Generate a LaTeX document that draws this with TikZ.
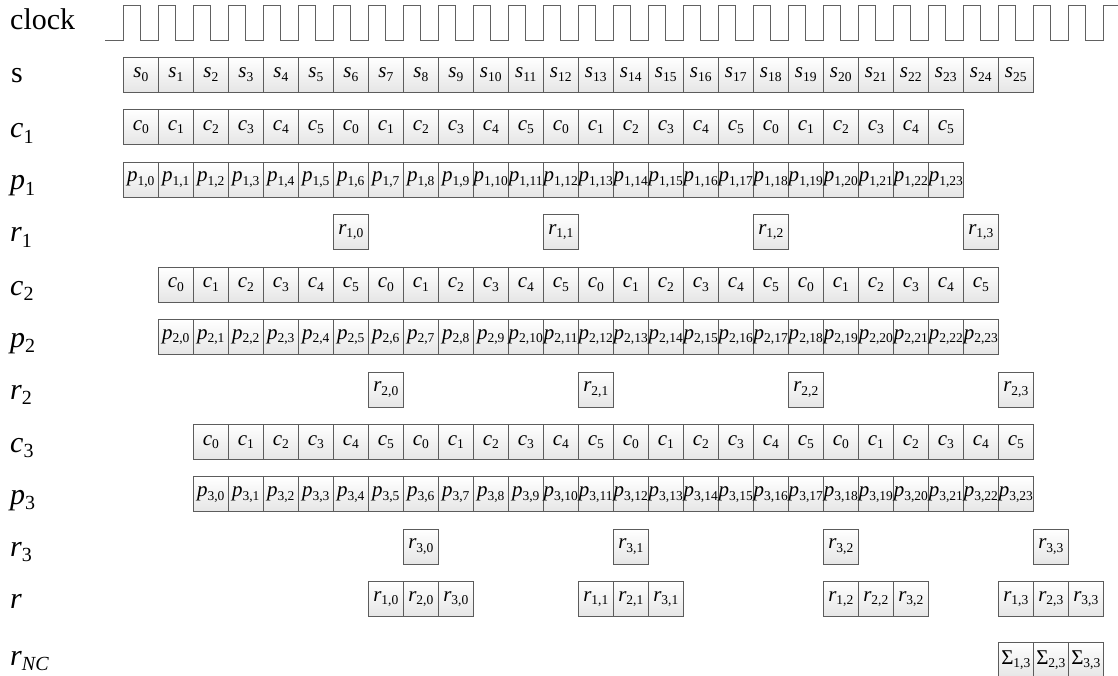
\documentclass[tikz,border=0pt]{standalone}
\usepackage{fontspec}
\setmainfont{Liberation Serif}
\newcommand\cs[2]{\textit{#1}\raisebox{-3.5pt}{\fontsize{13.5}{14}\selectfont #2}}
\newcommand\ls[2]{\textit{#1}\raisebox{-5.5pt}{\fontsize{20}{20}\selectfont #2}}
\tikzset{
  cell/.style={draw=black!64, line width=0.9pt, top color=white, bottom color=black!10,
    minimum width=35pt, minimum height=35pt, inner sep=0pt, font=\fontsize{21}{23}\selectfont},
  lbl/.style={anchor=base west, inner sep=0pt, font=\fontsize{30}{32}\selectfont},
  clk/.style={draw=black!62, line width=0.9pt}
}
\begin{document}
\begin{tikzpicture}[x=1pt,y=-1pt]
\useasboundingbox (0,0) rectangle (1118,676);
% labels
\node[lbl] (l-clock) at (10,30) {clock};
\node[lbl] (l-s) at (11,83) {s};
\node[lbl] (l-c1) at (10,138) {\ls{c}{1}};
\node[lbl] (l-p1) at (10,190) {\ls{p}{1}};
\node[lbl] (l-r1) at (10,242) {\ls{r}{1}};
\node[lbl] (l-c2) at (10,295) {\ls{c}{2}};
\node[lbl] (l-p2) at (10,347) {\ls{p}{2}};
\node[lbl] (l-r2) at (10,399) {\ls{r}{2}};
\node[lbl] (l-c3) at (10,452) {\ls{c}{3}};
\node[lbl] (l-p3) at (10,504) {\ls{p}{3}};
\node[lbl] (l-r3) at (10,556) {\ls{r}{3}};
\node[lbl] (l-r) at (10,608) {\textit{r}};
\node[lbl] (l-rnc) at (10,665) {\ls{r}{\itshape NC}};
% clock
\coordinate (clk-start) at (105,40.7);
\coordinate (clk-end) at (1118,5);
\draw[clk] (clk-start) foreach \i in {0,...,27} { -- ({123.3+35*\i},40.7) -- ++(0,-35.7) -- ++(17.5,0) -- ++(0,35.7) }
  -- (1103.3,40.7) -- (1103.3,5) -- (clk-end);
% s row
\foreach \i in {0,...,25} \node[cell] (s-\i) at ({140.8+35*\i},74.8) {\cs{s}{\i}};
% c and p rows
\foreach \i in {0,...,23} {
  \pgfmathtruncatemacro\m{mod(\i,6)}
  \node[cell] (ca-\i) at ({140.8+35*\i},127.2) {\cs{c}{\m}};
  \node[cell] (pa-\i) at ({140.8+35*\i},179.7) {\cs{p}{1,\i}};
  \node[cell] (cb-\i) at ({140.8+35*(\i+1)},284.6) {\cs{c}{\m}};
  \node[cell] (pb-\i) at ({140.8+35*(\i+1)},337.0) {\cs{p}{2,\i}};
  \node[cell] (cc-\i) at ({140.8+35*(\i+2)},441.9) {\cs{c}{\m}};
  \node[cell] (pc-\i) at ({140.8+35*(\i+2)},494.4) {\cs{p}{3,\i}};
}
% r rows
\foreach \k in {0,...,3} {
  \node[cell] (ra-\k) at ({140.8+35*(6*\k+6)},232.1) {\cs{r}{1,\k}};
  \node[cell] (rb-\k) at ({140.8+35*(6*\k+7)},389.5) {\cs{r}{2,\k}};
  \node[cell] (rc-\k) at ({140.8+35*(6*\k+8)},546.8) {\cs{r}{3,\k}};
}
% combined r row
\foreach \k/\c in {0/7,1/13,2/20,3/25} {
  \foreach \j in {1,2,3} {
    \node[cell] (r-\k-\j) at ({140.8+35*(\c+\j-1)},599.2) {\cs{r}{\j,\k}};
  }
}
% r_NC row
\foreach \j in {1,2,3} \node[cell] (nc-\j) at ({140.8+35*(24+\j)},660.2) {\cs{\upshape Σ}{\j,3}};
\end{tikzpicture}
\end{document}
